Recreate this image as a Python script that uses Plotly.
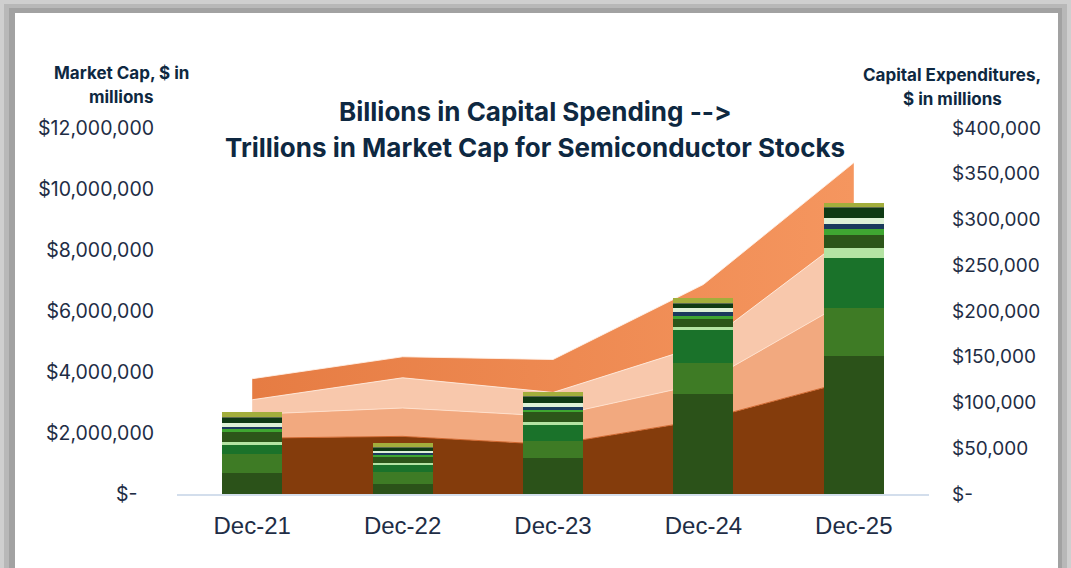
import plotly.graph_objects as go

# ---------------- data ----------------
categories = ["Dec-21", "Dec-22", "Dec-23", "Dec-24", "Dec-25"]

# Capital expenditures ($ millions), stacked areas (bottom -> top)
capex_1 = [61000, 63000, 54000, 81000, 125000]
capex_2 = [26000, 31000, 31000, 40000, 90000]
capex_3 = [16000, 33000, 26000, 42000, 72000]
capex_4 = [23000, 23000, 36000, 66000, 75000]

# Market cap ($ millions), stacked bars (bottom -> top)
mcap_1 = [698000, 328000, 1190000, 3270000, 4525000]
mcap_2 = [613000, 404000, 547000, 1036000, 1584000]
mcap_3 = [295000, 219000, 525000, 1072000, 1630000]
mcap_4 = [108000, 55000, 108000, 89000, 338000]
mcap_5 = [328000, 218000, 328000, 273000, 416000]
mcap_6 = [111000, 66000, 55000, 109000, 197000]
mcap_7 = [52000, 66000, 108000, 111000, 164000]
mcap_8 = [131000, 66000, 131000, 131000, 187000]
mcap_9 = [177000, 87000, 197000, 142000, 338000]
mcap_10 = [20000, 20000, 33000, 44000, 43000]
mcap_11 = [164000, 150000, 131000, 144000, 131000]

left_tickvals = [0, 2e6, 4e6, 6e6, 8e6, 10e6, 12e6]
left_ticktext = ["$-\u00a0\u00a0\u00a0", "$2,000,000", "$4,000,000", "$6,000,000",
                 "$8,000,000", "$10,000,000", "$12,000,000"]
right_tickvals = [0, 50000, 100000, 150000, 200000, 250000, 300000, 350000, 400000]
right_ticktext = ["$-", "$50,000", "$100,000", "$150,000", "$200,000",
                  "$250,000", "$300,000", "$350,000", "$400,000"]

title_1 = "Billions in Capital Spending -\u200c-\u200c>"
title_2 = "Trillions in Market Cap for Semiconductor Stocks"
left_label = ["Market Cap, $ in", "millions"]
right_label = ["Capital Expenditures,", "$ in millions"]

# ---------------- styles ----------------
W, H = 1071, 568
L, R, T, B = 177, 929, 128, 494   # plot area in px

def px_x(px):
    return (px - L) / (R - L)

def px_y(py):
    return (B - py) / (B - T)

navy = "#0E2841"
tick_col = "#1E2D45"
area_colors = ["#843C0C", "#F2A97F", "#F8C8AC", "#EE8447"]
area_lines = ["#D0672E", "rgba(255,225,205,0.9)", "rgba(255,235,222,0.9)", "rgba(255,240,230,0.9)"]
bar_colors = ["#2B5219", "#3E7B25", "#1A722A", "#B4E3A3", "#2C5519", "#3FA631",
              "#1A3A5C", "#DDF1D6", "#0F3A14", "#5B6B50", "#A2AE3C"]

fig = go.Figure()

capex = [capex_1, capex_2, capex_3, capex_4]
for i, s in enumerate(capex):
    kw = {}
    if i == 3:
        kw["fillgradient"] = dict(type="horizontal",
                                  colorscale=[[0, "#E67C43"], [1, "#F5965F"]])
    fig.add_trace(go.Scatter(
        x=categories, y=s, mode="lines", stackgroup="capex",
        line=dict(width=1, color=area_lines[i]),
        fillcolor=area_colors[i], name=f"Capex {i+1}",
        yaxis="y", showlegend=False, **kw))

mcaps = [mcap_1, mcap_2, mcap_3, mcap_4, mcap_5, mcap_6, mcap_7, mcap_8,
         mcap_9, mcap_10, mcap_11]
for i, s in enumerate(mcaps):
    fig.add_trace(go.Bar(
        x=categories, y=s, marker=dict(color=bar_colors[i], line=dict(width=0)),
        name=f"Market cap {i+1}", yaxis="y2", showlegend=False))

shapes = [
    dict(type="rect", xref="paper", yref="paper", layer="below",
         x0=px_x(4), x1=px_x(1067), y0=px_y(640), y1=px_y(4),
         fillcolor="#B8B8B8", line=dict(width=0)),
    dict(type="rect", xref="paper", yref="paper", layer="below",
         x0=px_x(9), x1=px_x(1062), y0=px_y(640), y1=px_y(8),
         fillcolor="#A2A2A2", line=dict(width=0)),
    dict(type="rect", xref="paper", yref="paper", layer="below",
         x0=px_x(15), x1=px_x(1058), y0=px_y(640), y1=px_y(13),
         fillcolor="#FFFFFF", line=dict(width=0)),
]

ann = []
ann.append(dict(text=f"<b>{title_1}</b>", x=px_x(535), y=px_y(112)))
ann.append(dict(text=f"<b>{title_2}</b>", x=px_x(535), y=px_y(148)))
for a in ann:
    a.update(xref="paper", yref="paper", showarrow=False, xanchor="center",
             yanchor="middle", font=dict(family="Inter", size=26, color=navy))
small = []
small.append(dict(text=f"<b>{left_label[0]}</b>", x=px_x(121), y=px_y(73)))
small.append(dict(text=f"<b>{left_label[1]}</b>", x=px_x(121), y=px_y(97)))
small.append(dict(text=f"<b>{right_label[0]}</b>", x=px_x(952), y=px_y(75)))
small.append(dict(text=f"<b>{right_label[1]}</b>", x=px_x(952), y=px_y(99)))
for a in small:
    a.update(xref="paper", yref="paper", showarrow=False, xanchor="center",
             yanchor="middle", font=dict(family="Inter", size=17, color=navy))

fig.update_layout(
    width=W, height=H,
    margin=dict(l=L, r=W - R, t=T, b=H - B, pad=0),
    paper_bgcolor="#CFCFCF", plot_bgcolor="rgba(0,0,0,0)",
    barmode="stack", bargap=0.6,
    showlegend=False,
    shapes=shapes, annotations=ann + small,
    xaxis=dict(type="category", range=[-0.5, 4.5], showgrid=False,
               showline=True, linecolor="#D3DEEC", linewidth=2,
               ticks="", ticklabelstandoff=9,
               tickfont=dict(family="Liberation Sans", size=24, color=tick_col)),
    yaxis=dict(side="right", range=[0, 400000], tickvals=right_tickvals,
               ticktext=right_ticktext, showgrid=False, zeroline=False,
               ticks="", ticklabelstandoff=22,
               tickfont=dict(family="Inter", size=19, color=tick_col)),
    yaxis2=dict(side="left", overlaying="y", range=[0, 12e6],
                tickvals=left_tickvals, ticktext=left_ticktext,
                showgrid=False, zeroline=False, ticks="", ticklabelstandoff=22,
                tickfont=dict(family="Inter", size=19.5, color=tick_col)),
)

fig.write_html("out.html")
